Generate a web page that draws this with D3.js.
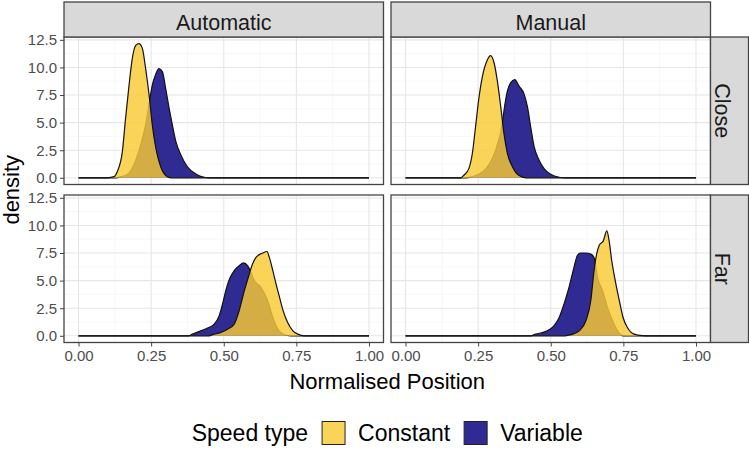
<!DOCTYPE html>
<html>
<head>
<meta charset="utf-8">
<script src="https://cdn.jsdelivr.net/npm/d3@7"></script>
<style>
  body { margin: 0; background: #fff; }
  svg text { font-family: "Liberation Sans", Arial, sans-serif; }
</style>
</head>
<body>
<svg id="chart" width="749" height="449"></svg>
<script>
// facet labels and legend entries
const facetCols = ["Automatic", "Manual"];
const facetRows = ["Close", "Far"];
const speedTypes = ["Constant", "Variable"];
const speedColors = ["#F9CB35", "#2F2B93"];

const xTicks = [0, 0.25, 0.5, 0.75, 1];
const yTicks = [0, 2.5, 5, 7.5, 10, 12.5];

// density curves: [normalised position, density]
const autoCloseConstant = [[0,0],[0.10,0],[0.122,0.1],[0.134,0.6],[0.151,2.4],[0.162,5.4],[0.174,8.4],[0.185,10.8],[0.197,12.0],[0.208,12.15],[0.220,11.7],[0.231,9.9],[0.243,7.5],[0.254,4.8],[0.266,2.7],[0.283,1.0],[0.306,0.1],[0.32,0],[1,0]];
const autoCloseVariable = [[0,0],[0.13,0],[0.145,0.1],[0.168,0.3],[0.191,1.2],[0.214,3.0],[0.231,4.8],[0.246,7.2],[0.254,8.4],[0.266,9.4],[0.277,9.9],[0.289,9.6],[0.300,8.1],[0.312,6.3],[0.323,4.8],[0.335,3.3],[0.352,2.1],[0.375,1.0],[0.404,0.35],[0.433,0.05],[0.45,0],[1,0]];
const manCloseConstant = [[0,0],[0.19,0],[0.201,0.23],[0.218,0.83],[0.230,2.2],[0.241,4.6],[0.253,7.3],[0.264,9.1],[0.282,10.7],[0.293,11.07],[0.305,10.4],[0.316,8.8],[0.328,6.4],[0.339,4.0],[0.351,2.2],[0.368,1.0],[0.391,0.2],[0.414,0],[1,0]];
const manCloseVariable = [[0,0],[0.21,0],[0.230,0.1],[0.276,0.8],[0.310,2.5],[0.333,4.9],[0.339,6.1],[0.351,7.9],[0.362,8.6],[0.376,8.9],[0.391,8.3],[0.408,7.6],[0.420,6.4],[0.431,4.6],[0.443,2.8],[0.460,1.6],[0.477,0.83],[0.500,0.32],[0.529,0.05],[0.55,0],[1,0]];
const autoFarConstant = [[0,0],[0.45,0],[0.461,0.1],[0.490,0.3],[0.513,0.6],[0.536,1.06],[0.553,2.27],[0.571,4.1],[0.588,5.6],[0.599,6.5],[0.611,7.1],[0.634,7.5],[0.649,7.64],[0.657,7.1],[0.669,5.9],[0.680,4.7],[0.692,3.5],[0.703,2.4],[0.720,1.2],[0.738,0.45],[0.755,0.15],[0.778,0],[1,0]];
const autoFarVariable = [[0,0],[0.38,0],[0.392,0.15],[0.421,0.45],[0.444,0.7],[0.467,1.06],[0.484,1.8],[0.496,2.9],[0.507,4.1],[0.519,5.1],[0.536,5.9],[0.553,6.35],[0.568,6.6],[0.582,6.35],[0.593,5.8],[0.605,5.0],[0.628,4.4],[0.651,3.2],[0.669,1.66],[0.686,0.6],[0.709,0.1],[0.73,0],[1,0]];
const manFarConstant = [[0,0],[0.55,0],[0.569,0.1],[0.598,0.45],[0.621,1.36],[0.638,3.2],[0.649,5.9],[0.658,7.4],[0.667,8.2],[0.681,8.6],[0.693,9.5],[0.701,8.6],[0.710,6.8],[0.722,5.0],[0.736,3.2],[0.749,1.66],[0.764,0.75],[0.787,0.15],[0.816,0.02],[0.84,0],[1,0]];
const manFarVariable = [[0,0],[0.43,0],[0.448,0.15],[0.483,0.4],[0.511,0.9],[0.529,1.66],[0.546,2.9],[0.563,4.4],[0.580,6.2],[0.592,7.3],[0.603,7.5],[0.621,7.5],[0.638,7.4],[0.649,7.1],[0.661,5.3],[0.678,4.1],[0.695,2.6],[0.713,1.36],[0.730,0.45],[0.75,0],[1,0]];

// panels[row][col] = { Constant, Variable }
const panels = [
  [{ Constant: autoCloseConstant, Variable: autoCloseVariable }, { Constant: manCloseConstant, Variable: manCloseVariable }],
  [{ Constant: autoFarConstant, Variable: autoFarVariable }, { Constant: manFarConstant, Variable: manFarVariable }]
];

const svg = d3.select("#chart");
const panelLeft = [64, 391];
const panelW = 319.5;
const rowTop = [37, 195];
const panelH = 147.5;
const stripTop = 2;
const stripRight = 38;

const ymax = d3.max([autoCloseConstant, autoCloseVariable, manCloseConstant, manCloseVariable,
  autoFarConstant, autoFarVariable, manFarConstant, manFarVariable].flat(), d => d[1]);

const x = d3.scaleLinear().domain([-0.05, 1.05]).range([0, panelW]);
const y = d3.scaleLinear().domain([-0.05 * ymax, ymax * 1.05]).range([panelH, 0]);

const area = d3.area()
  .x(d => x(d[0]))
  .y0(y(0))
  .y1(d => y(d[1]))
  .curve(d3.curveMonotoneX);

const line = d3.line()
  .x(d => x(d[0]))
  .y(d => y(d[1]))
  .curve(d3.curveMonotoneX);

const minorX = d3.range(0.125, 1, 0.25);
const minorY = d3.range(1.25, 12.5, 2.5);

facetRows.forEach((rowName, r) => {
  facetCols.forEach((colName, c) => {
    const g = svg.append("g").attr("transform", `translate(${panelLeft[c]},${rowTop[r]})`);

    g.append("rect")
      .attr("width", panelW).attr("height", panelH)
      .attr("fill", "#fff");

    // grid
    g.selectAll(".minx").data(minorX).join("line")
      .attr("x1", d => x(d)).attr("x2", d => x(d))
      .attr("y1", 0).attr("y2", panelH)
      .attr("stroke", "#F2F2F2").attr("stroke-width", 0.6);
    g.selectAll(".miny").data(minorY).join("line")
      .attr("y1", d => y(d)).attr("y2", d => y(d))
      .attr("x1", 0).attr("x2", panelW)
      .attr("stroke", "#F2F2F2").attr("stroke-width", 0.6);
    g.selectAll(".majx").data(xTicks).join("line")
      .attr("x1", d => x(d)).attr("x2", d => x(d))
      .attr("y1", 0).attr("y2", panelH)
      .attr("stroke", "#E6E6E6").attr("stroke-width", 1.1);
    g.selectAll(".majy").data(yTicks).join("line")
      .attr("y1", d => y(d)).attr("y2", d => y(d))
      .attr("x1", 0).attr("x2", panelW)
      .attr("stroke", "#E6E6E6").attr("stroke-width", 1.1);

    // Variable underneath, Constant on top
    const cell = panels[r][c];
    ["Variable", "Constant"].forEach(type => {
      const i = speedTypes.indexOf(type);
      g.append("path")
        .datum(cell[type])
        .attr("d", area)
        .attr("fill", speedColors[i])
        .attr("fill-opacity", type === "Constant" ? 0.82 : 1);
      g.append("path")
        .datum(cell[type])
        .attr("d", line)
        .attr("fill", "none")
        .attr("stroke", "#111")
        .attr("stroke-width", 1.2);
    });

    g.append("rect")
      .attr("width", panelW).attr("height", panelH)
      .attr("fill", "none")
      .attr("stroke", "#444").attr("stroke-width", 1.3);

    // axes
    if (c === 0) {
      const ya = g.append("g").call(d3.axisLeft(y).tickValues(yTicks).tickFormat(d3.format(".1f")).tickSize(4).tickPadding(3));
      ya.select(".domain").remove();
      ya.selectAll("line").attr("stroke", "#444");
      ya.selectAll("text").attr("fill", "#4D4D4D").style("font-size", "15px").style("font-family", "Liberation Sans, Arial, sans-serif");
    }
    if (r === 1) {
      const xa = g.append("g").attr("transform", `translate(0,${panelH})`)
        .call(d3.axisBottom(x).tickValues(xTicks).tickFormat(d3.format(".2f")).tickSize(4).tickPadding(4));
      xa.select(".domain").remove();
      xa.selectAll("line").attr("stroke", "#444");
      xa.selectAll("text").attr("fill", "#4D4D4D").style("font-size", "15px").style("font-family", "Liberation Sans, Arial, sans-serif");
    }

    // top strips
    if (r === 0) {
      const s = svg.append("g").attr("transform", `translate(${panelLeft[c]},${stripTop})`);
      s.append("rect").attr("width", panelW).attr("height", rowTop[0] - stripTop)
        .attr("fill", "#D9D9D9").attr("stroke", "#444").attr("stroke-width", 1.3);
      s.append("text").attr("x", panelW / 2).attr("y", 28)
        .attr("text-anchor", "middle").attr("fill", "#1A1A1A")
        .style("font-size", "21.5px").text(colName);
    }
    // right strips
    if (c === 1) {
      const s = svg.append("g").attr("transform", `translate(${panelLeft[1] + panelW},${rowTop[r]})`);
      s.append("rect").attr("width", stripRight).attr("height", panelH)
        .attr("fill", "#D9D9D9").attr("stroke", "#444").attr("stroke-width", 1.3);
      s.append("text").attr("transform", `translate(4,${panelH / 2}) rotate(90)`)
        .attr("text-anchor", "middle").attr("fill", "#1A1A1A")
        .style("font-size", "21.5px").text(rowName);
    }
  });
});

// axis titles
svg.append("text")
  .attr("transform", `translate(19,${(rowTop[0] + rowTop[1] + panelH) / 2}) rotate(-90)`)
  .attr("text-anchor", "middle").attr("fill", "#000")
  .style("font-size", "22px").text("density");

svg.append("text")
  .attr("x", (panelLeft[0] + panelLeft[1] + panelW) / 2).attr("y", 389)
  .attr("text-anchor", "middle").attr("fill", "#000")
  .style("font-size", "22px").text("Normalised Position");

// legend
const legend = svg.append("g");
const legendY = 433;
const keySize = 23;
const legendTitle = legend.append("text").attr("x", 0).attr("y", legendY + 8)
  .style("font-size", "23px").attr("fill", "#000").text("Speed type");
let cursor = legendTitle.node().getComputedTextLength() + 14;
speedTypes.forEach((name, i) => {
  legend.append("rect")
    .attr("x", cursor).attr("y", legendY - keySize / 2)
    .attr("width", keySize).attr("height", keySize)
    .attr("fill", speedColors[i]).attr("fill-opacity", i === 0 ? 0.82 : 1)
    .attr("stroke", "#222").attr("stroke-width", 1);
  cursor += keySize + 13;
  const t = legend.append("text").attr("x", cursor).attr("y", legendY + 8)
    .style("font-size", "23px").attr("fill", "#000").text(name);
  cursor += t.node().getComputedTextLength() + 14;
});
const legendWidth = cursor - 14;
legend.attr("transform", `translate(${(panelLeft[0] + panelLeft[1] + panelW) / 2 - legendWidth / 2},0)`);
</script>
</body>
</html>
